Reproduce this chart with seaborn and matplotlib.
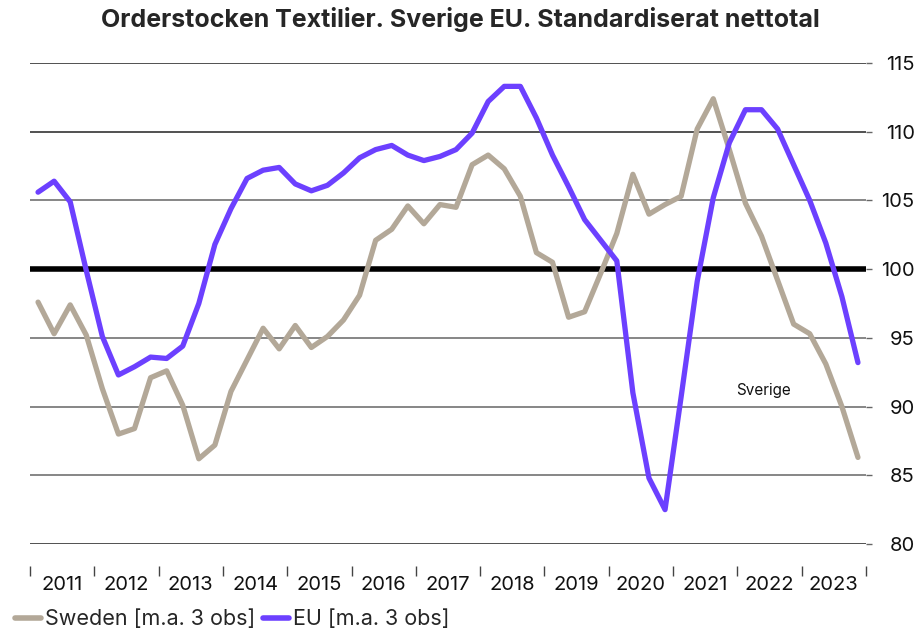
import numpy as np
import pandas as pd
import seaborn as sns
import matplotlib.pyplot as plt
from matplotlib.ticker import FixedLocator, NullFormatter

# Quarterly values, 2011 Q1 .. 2023 Q4 (3-obs moving average)
sweden = [97.6, 95.3, 97.4, 95.2, 91.3, 88.0, 88.4, 92.1, 92.6, 90.1, 86.2, 87.2,
          91.1, 93.4, 95.7, 94.2, 95.9, 94.3, 95.1, 96.3, 98.1, 102.1, 102.9, 104.6,
          103.3, 104.7, 104.5, 107.6, 108.3, 107.3, 105.3, 101.2, 100.5, 96.5, 96.9, 99.7,
          102.6, 106.9, 104.0, 104.7, 105.3, 110.2, 112.4, 108.7, 104.8, 102.4, 99.2, 96.0,
          95.3, 93.1, 90.0, 86.3]
eu = [105.6, 106.4, 104.9, 99.9, 95.1, 92.3, 92.9, 93.6, 93.5, 94.4, 97.5, 101.8,
      104.4, 106.6, 107.2, 107.4, 106.2, 105.7, 106.1, 107.0, 108.1, 108.7, 109.0, 108.3,
      107.9, 108.2, 108.7, 109.9, 112.2, 113.3, 113.3, 111.0, 108.3, 106.0, 103.6, 102.1,
      100.6, 91.0, 84.8, 82.5, 90.7, 99.1, 105.2, 109.2, 111.6, 111.6, 110.2, 107.6,
      105.0, 101.9, 98.0, 93.2]
years = list(range(2011, 2024))
series_names = ["Sweden [m.a. 3 obs]", "EU [m.a. 3 obs]"]
colors = ["#B3A898", "#6C40FF"]

t = [2011 + (i + 0.5) / 4 for i in range(len(sweden))]
df = pd.DataFrame({
    "t": t * 2,
    "value": sweden + eu,
    "series": [series_names[0]] * len(sweden) + [series_names[1]] * len(eu),
})

sns.set_style("white")
plt.rcParams["font.family"] = ["Inter", "DejaVu Sans"]

fig = plt.figure(figsize=(9.2, 6.39), dpi=100)
ax = fig.add_axes([30 / 920, 95 / 639, 836 / 920, 481 / 639])

# gridlines
for v in range(80, 116, 5):
    if v == 100:
        continue
    ax.axhline(v, color="#222222" if v in (80, 110, 115) else "#666666", lw=1.1, zorder=1)
ax.axhline(100, color="black", lw=4, zorder=2)

sns.lineplot(data=df, x="t", y="value", hue="series", palette=colors,
             linewidth=3.8, ax=ax, legend=False, zorder=3)

ax.set_xlim(2011, 2024)
ax.set_ylim(80, 115)
for s in ax.spines.values():
    s.set_visible(False)
ax.spines["bottom"].set_position(("outward", 16))

ax.set_xlabel("")
ax.set_ylabel("")
ax.xaxis.set_major_locator(FixedLocator([y + 0.5 for y in years]))
ax.set_xticklabels([str(y) for y in years])
ax.xaxis.set_minor_locator(FixedLocator(list(range(2011, 2025))))
ax.xaxis.set_minor_formatter(NullFormatter())
ax.tick_params(axis="x", which="major", length=0, labelsize=14.5, pad=7, colors="#111111")
ax.tick_params(axis="x", which="minor", length=7, width=1, color="#444444", bottom=True)

ax.yaxis.tick_right()
ax.set_yticks(range(80, 116, 5))
ax.tick_params(axis="y", length=4, width=1, labelsize=14.5, pad=31, right=True)
ax.tick_params(axis="y", colors="#666666", labelcolor="#111111")
for lab in ax.get_yticklabels():
    lab.set_horizontalalignment("right")

ax.text(2022.4, 91.2, "Sverige", fontsize=11, ha="center", va="center", color="#111111")

fig.text(0.5, 0.97, "Orderstocken Textilier. Sverige EU. Standardiserat nettotal",
         ha="center", va="center", fontsize=18, fontweight="bold")

handles = [plt.Line2D([], [], color=c, lw=4) for c in colors]
fig.legend(handles, series_names, loc="lower left", bbox_to_anchor=(0.0, -0.008),
           ncol=2, frameon=False, fontsize=15.5, handlelength=1.2, handletextpad=0.2,
           columnspacing=0.35, borderaxespad=0.3)

fig.savefig("out.png", dpi=100)
